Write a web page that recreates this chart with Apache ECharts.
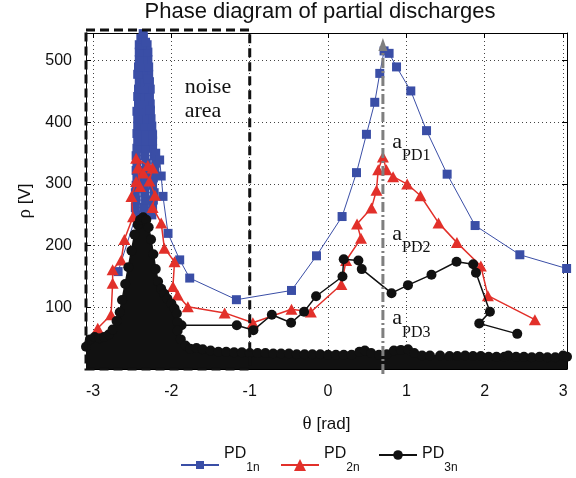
<!DOCTYPE html>
<html><head><meta charset="utf-8">
<script src="https://cdn.jsdelivr.net/npm/echarts@6/dist/echarts.min.js"></script>
<style>html,body{margin:0;padding:0;background:#fff}#c{width:576px;height:478px}</style>
</head><body><div id="c"></div>
<script>
// ---- data ----
const titleText = 'Phase diagram of partial discharges';
const xRange = [-3.09, 3.05];
const yRange = [0, 545];
const xTickLabels = [-3, -2, -1, 0, 1, 2, 3];
const yTickLabels = [100, 200, 300, 400, 500];
const seriesNames = ['PD1n', 'PD2n', 'PD3n'];
const legendSubs = ['1n', '2n', '3n'];

const pd1Data = [
  [-2.68,158],
  [-2.45,250],[-2.34,250],[-2.25,250],[-2.24,262],[-2.35,262],[-2.46,262],[-2.45,274],[-2.33,274],[-2.23,274],
  [-2.22,286],[-2.34,286],[-2.46,286],[-2.45,298],[-2.35,298],[-2.24,298],[-2.23,310],[-2.34,310],[-2.44,310],
  [-2.45,322],[-2.33,322],[-2.21,322],[-2.20,334],[-2.32,334],[-2.44,334],[-2.45,346],[-2.34,346],[-2.22,346],
  [-2.24,358],[-2.34,358],[-2.44,358],[-2.43,370],[-2.33,370],[-2.24,370],[-2.25,382],[-2.34,382],[-2.44,382],
  [-2.43,394],[-2.34,394],[-2.25,394],[-2.26,406],[-2.35,406],[-2.43,406],[-2.44,418],[-2.35,418],[-2.27,418],
  [-2.27,430],[-2.35,430],[-2.42,430],[-2.43,442],[-2.34,442],[-2.28,442],[-2.27,454],[-2.35,454],[-2.42,454],
  [-2.41,466],[-2.34,466],[-2.28,466],[-2.29,478],[-2.36,478],[-2.43,478],[-2.42,490],[-2.35,490],[-2.29,490],
  [-2.30,502],[-2.36,502],[-2.41,502],[-2.41,514],[-2.35,514],[-2.30,514],[-2.31,526],[-2.37,526],[-2.41,526],
  [-2.39,536],[-2.36,538],[-2.36,544],[-2.33,530],[-2.30,470],[-2.27,420],[-2.24,380],
  [-2.20,350],[-2.15,339],[-2.13,313],[-2.107,280],[-2.043,220],[-1.894,177],[-1.766,147.5],[-1.17,112.4],
  [-0.467,127.4],[-0.148,183.6],[0.179,247.3],[0.363,318.5],[0.49,380.7],[0.596,432.6],[0.66,479.5],[0.715,516],
  [0.779,512],[0.874,490],[1.056,451],[1.257,386.6],[1.52,316],[1.877,232.7],[2.448,185.3],[3.045,163]
];

const pd2Data = [
  [-2.94,66],[-2.77,88],[-2.75,139],[-2.75,161],[-2.64,177],[-2.60,210],[-2.49,247],[-2.51,280],
  [-2.45,304],[-2.40,296],[-2.43,326],[-2.36,318],[-2.45,342],[-2.30,330],[-2.24,326],[-2.28,305],
  [-2.21,282],[-2.24,262],[-2.13,237],[-2.09,196],[-1.96,174],[-1.98,134],[-1.92,120],[-1.79,101],
  [-1.32,91],[-0.96,75],[-0.467,97],[-0.22,92.5],[0.17,137],[0.23,176],[0.42,212],[0.37,235],
  [0.554,261],[0.618,290],[0.64,323],[0.70,344],[0.745,323],[0.83,312],[1.01,300],[1.18,281],
  [1.41,237],[1.645,205],[1.95,167],[2.04,119],[2.64,80]
];

const pd3Data = [
  [-1.87,71],[-1.165,71],[-0.953,63],[-0.718,88],[-0.472,75],[-0.306,93],[-0.153,118],[0.184,150],
  [0.20,178],[0.387,176],[0.43,162],[0.81,123],[1.02,136],[1.32,153],[1.64,174],[1.853,170],
  [1.888,156],[2.066,93],[1.93,74],[2.415,57]
];

const pd3NoiseData = [
  [-3.09,36],[-3.04,48],[-2.98,52],[-2.92,50],[-2.86,52],[-2.80,56],[-2.75,64],[-2.70,78],[-2.66,92],
  [-2.63,112],[-2.59,138],[-2.55,165],[-2.51,192],[-2.47,218],[-2.43,234],[-2.40,242],[-2.36,246],
  [-2.32,242],[-2.29,230],[-2.26,210],[-2.23,186],[-2.20,162],[-2.17,142],[-2.13,130],[-2.09,122],
  [-2.05,114],[-2.00,106],[-1.96,98],[-1.93,90],[-1.92,76],[-1.92,62],[-1.88,48],[-1.82,38],[-1.76,33],
  [-1.68,34],[-1.60,32],[-1.50,30],[-1.40,28],[-1.30,28],[-1.20,27],[-1.10,27],[-1.00,26],[-0.90,26],
  [-0.80,26],[-0.70,25],[-0.60,25],[-0.50,25],[-0.40,24],[-0.30,24],[-0.20,24],[-0.10,24],[0.00,23],
  [0.10,23],[0.20,23],[0.30,23],[0.40,28],[0.47,30],[0.55,26],[0.65,23],[0.75,24],[0.84,30],[0.93,31],
  [1.02,32],[1.10,26],[1.20,22],[1.30,22],[1.43,22],[1.55,21],[1.65,21],[1.75,22],[1.85,21],[1.95,21],
  [2.05,20],[2.15,20],[2.25,20],[2.30,22],[2.40,20],[2.50,20],[2.60,19],[2.70,20],[2.80,19],[2.90,19],
  [3.00,22],[3.05,20]
];

const noiseBox = [-3.09, -1.0, 0, 550];      // theta from, theta to, rho from, rho to
const peakArrow = [0.70, 537];               // theta, rho of arrow tip
const noiseLabel = ['noise', 'area'];
const noiseLabelPos = [-1.83, 476];
const peakLabels = ['PD1', 'PD2', 'PD3'];
const peakLabelPos = [[0.82, 386], [0.82, 237], [0.82, 100]];

// ---- chart ----
const SANS = '"Liberation Sans", Arial, Helvetica, sans-serif';
const SERIF = '"Liberation Serif", "Times New Roman", serif';
const BLUE = '#3a4ea6', RED = '#e2302a', BLACK = '#111111';

const chart = echarts.init(document.getElementById('c'), null, {renderer: 'canvas'});

const intLabel = v => (xTickLabels.indexOf(Math.round(v * 1000) / 1000) >= 0 ? String(v) : '');
const yLabel = v => (yTickLabels.indexOf(v) >= 0 ? String(v) : '');

function legendItem(i, left, top, itemHeight, pad) {
  return {
    data: [seriesNames[i]], left: left, top: top, padding: 0, orient: 'horizontal',
    itemWidth: 38, itemHeight: itemHeight, selectedMode: false,
    formatter: () => '{a|PD}{b|' + legendSubs[i] + '}',
    textStyle: {
      color: '#111', fontFamily: SANS, padding: pad,
      rich: {
        a: {fontSize: 16, lineHeight: 16, verticalAlign: 'top', fontFamily: SANS, color: '#111'},
        b: {fontSize: 12, lineHeight: 28, verticalAlign: 'bottom', fontFamily: SANS, color: '#111'}
      }
    }
  };
}

const option = {
  animation: false,
  backgroundColor: '#fff',
  title: {
    text: titleText, left: 320, top: 1, padding: 0, textAlign: 'center',
    textStyle: {fontSize: 22, fontWeight: 'normal', color: '#111', fontFamily: SANS}
  },
  legend: [
    legendItem(0, 180, 446, 10, [0, 0, 10, 0]),
    legendItem(1, 280, 446, 15, [0, 0, 10, 0]),
    legendItem(2, 378, 446, 12, [10, 0, 0, 0])
  ],
  grid: {left: 86, right: 9, top: 33, bottom: 109, show: false},
  xAxis: [{
    type: 'value', min: xRange[0], max: xRange[1],
    name: '{t|θ} [rad]', nameLocation: 'middle', nameGap: 46,
    nameTextStyle: {fontSize: 17, color: '#111', fontFamily: SANS,
      rich: {t: {fontFamily: SERIF, fontSize: 19, color: '#111'}}},
    axisLine: {show: true, onZero: false, lineStyle: {color: '#000', width: 1}},
    axisTick: {show: true, inside: true, length: 5, lineStyle: {color: '#000'}},
    axisLabel: {formatter: intLabel, fontSize: 16, color: '#111', fontFamily: SANS, margin: 15,
      showMinLabel: false, showMaxLabel: false},
    splitLine: {show: true, lineStyle: {color: '#444', width: 1, type: [1, 3]}}
  }, {
    type: 'value', position: 'top', min: xRange[0], max: xRange[1],
    axisLine: {show: true, onZero: false, lineStyle: {color: '#000', width: 1}},
    axisTick: {show: true, inside: true, length: 5, lineStyle: {color: '#000'}},
    axisLabel: {show: false}, splitLine: {show: false}
  }],
  yAxis: [{
    type: 'value', min: yRange[0], max: yRange[1], interval: 100,
    name: '{t|ρ} [V]', nameLocation: 'middle', nameGap: 45, nameRotate: 90,
    nameTextStyle: {fontSize: 17, color: '#111', fontFamily: SANS,
      rich: {t: {fontFamily: SERIF, fontSize: 19, color: '#111'}}},
    axisLine: {show: true, onZero: false, lineStyle: {color: '#000', width: 1}},
    axisTick: {show: true, inside: true, length: 5, lineStyle: {color: '#000'}},
    axisLabel: {formatter: yLabel, fontSize: 16, color: '#111', fontFamily: SANS, margin: 14,
      padding: [4, 0, 0, 0], showMinLabel: false, showMaxLabel: false},
    splitLine: {show: true, lineStyle: {color: '#444', width: 1, type: [1, 3]}}
  }, {
    type: 'value', position: 'right', min: yRange[0], max: yRange[1], interval: 100,
    axisLine: {show: true, onZero: false, lineStyle: {color: '#000', width: 1}},
    axisTick: {show: true, inside: true, length: 5, lineStyle: {color: '#000'}},
    axisLabel: {show: false}, splitLine: {show: false}
  }],
  series: [
    {name: seriesNames[0], type: 'line', data: pd1Data, symbol: 'rect', symbolSize: 9,
      itemStyle: {color: BLUE}, lineStyle: {color: BLUE, width: 1}, z: 2},
    {name: seriesNames[1], type: 'line', data: pd2Data, symbol: 'triangle', symbolSize: [12, 11],
      itemStyle: {color: RED}, lineStyle: {color: RED, width: 1.5}, z: 3},
    {name: seriesNames[2], type: 'line', data: pd3Data, symbol: 'circle', symbolSize: 10,
      itemStyle: {color: BLACK}, lineStyle: {color: BLACK, width: 1.5}, z: 4},
    {name: seriesNames[2], type: 'line', data: pd3NoiseData, symbol: 'circle', symbolSize: 10,
      itemStyle: {color: BLACK}, lineStyle: {color: BLACK, width: 1.5},
      areaStyle: {color: BLACK, opacity: 1}, z: 4}
  ]
};
chart.setOption(option);

function px(p) { return chart.convertToPixel({xAxisIndex: 0, yAxisIndex: 0}, p); }

const b0 = px([noiseBox[0], noiseBox[3]]);
const b1 = px([noiseBox[1], noiseBox[2]]);
const tip = px(peakArrow);
const base = px([peakArrow[0], 0]);
const graphics = [
  {type: 'rect', z: 100, shape: {x: b0[0], y: b0[1], width: b1[0] - b0[0], height: b1[1] - b0[1]},
    style: {fill: 'none', stroke: '#111', lineWidth: 3, lineDash: [9, 5]}},
  {type: 'line', z: 100, shape: {x1: base[0], y1: base[1] + 5, x2: tip[0], y2: tip[1] + 10},
    style: {stroke: '#7f7f7f', lineWidth: 3, lineDash: [10, 3, 2, 3]}},
  {type: 'polygon', z: 101, shape: {points: [[tip[0], tip[1]], [tip[0] - 4.5, tip[1] + 13], [tip[0] + 4.5, tip[1] + 13]]},
    style: {fill: '#7f7f7f', stroke: 'none'}}
];
const nl = px(noiseLabelPos);
graphics.push({type: 'text', z: 102, x: nl[0], y: nl[1],
  style: {text: noiseLabel.join('\n'), font: '22px ' + SERIF, fill: '#111', lineHeight: 24,
    align: 'left', verticalAlign: 'top'}});
peakLabels.forEach((t, i) => {
  const p = px(peakLabelPos[i]);
  graphics.push({type: 'text', z: 102, x: p[0], y: p[1],
    style: {text: '{a|a}{s|' + t + '}', fill: '#111', align: 'left', verticalAlign: 'top',
      rich: {a: {fontSize: 22, fontFamily: SERIF, lineHeight: 22, verticalAlign: 'top', fill: '#111'},
             s: {fontSize: 16, fontFamily: SERIF, lineHeight: 33, verticalAlign: 'bottom', fill: '#111'}}}});
});
chart.setOption({graphic: graphics});
</script>
</body></html>
